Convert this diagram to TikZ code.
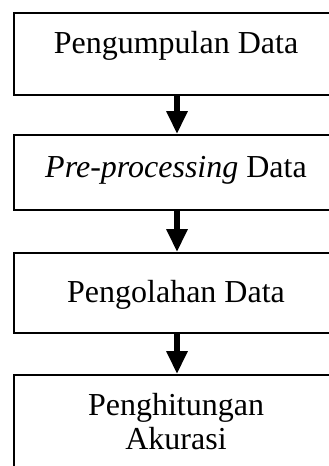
\documentclass[tikz,border=0pt]{standalone}
\usepackage{fontspec}
\setmainfont{Liberation Serif}
\usetikzlibrary{arrows.meta}
\begin{document}
\begin{tikzpicture}[x=1pt,y=-1pt,
  stepbox/.style={draw,line width=1.8pt,minimum width=326pt,inner sep=0pt},
  steptext/.style={inner sep=0pt,font=\fontsize{32}{34}\selectfont,align=center},
  flowarrow/.style={line width=6pt,-{Triangle[width=20pt,length=23pt]}}]
\useasboundingbox (0,0) rectangle (329,466);
\clip (0,0) rectangle (329,466);
% process boxes
\node[stepbox,minimum height=82pt] (b1) at (177,54) {};
\node[stepbox,minimum height=75pt] (b2) at (177,172.5) {};
\node[stepbox,minimum height=80pt] (b3) at (177,293) {};
\node[stepbox,minimum height=105pt] (b4) at (177,427.5) {};
% box labels
\node[steptext,anchor=base] (t1) at (176,53) {Pengumpulan Data};
\node[steptext,anchor=base] (t2) at (176,177) {\textit{Pre-processing} Data};
\node[steptext,anchor=base] (t3) at (176,302) {Pengolahan Data};
\node[steptext,anchor=base] (t4) at (176,449) {Penghitungan\\Akurasi};
% flow arrows
\draw[flowarrow] (b1.south) -- (b2.north);
\draw[flowarrow] (b2.south) -- (b3.north);
\draw[flowarrow] (b3.south) -- (b4.north);
\end{tikzpicture}
\end{document}
